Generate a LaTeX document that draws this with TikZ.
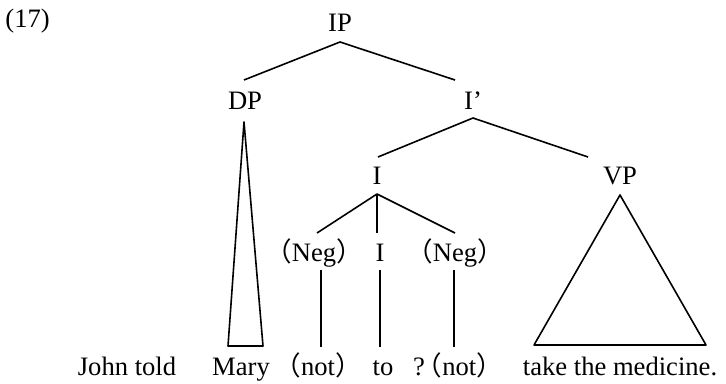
\documentclass[tikz,border=0pt]{standalone}
\usepackage{fontspec}
\setmainfont{Liberation Serif}
\newfontfamily\cjkfont{Noto Sans CJK SC}
\newcommand{\lp}{{\cjkfont （}}
\newcommand{\rp}{{\cjkfont ）}}
\begin{document}
\begin{tikzpicture}[x=0.5pt,y=-0.5pt,
  lab/.style={inner sep=0pt,anchor=base,font=\fontsize{13.3}{16}\selectfont},
  edge/.style={line width=0.8pt,line join=round}]
\useasboundingbox (0,0) rectangle (726,384);

% example number
\node[lab,anchor=base west] (num) at (5,28) {(17)};

% category labels
\node[lab] (IP)  at (340,32)  {IP};
\node[lab] (DP)  at (245,110) {DP};
\node[lab] (Ib)  at (473,110) {I’};
\node[lab] (I)   at (377,185) {I};
\node[lab] (VP)  at (620,185) {VP};
\node[lab] (negA) at (314,262) {\lp Neg\rp};
\node[lab] (Ilow) at (380,262) {I};
\node[lab] (negB) at (455,262) {\lp Neg\rp};

% words
\node[lab] (john) at (127,375) {John told};
\node[lab] (mary) at (241,375) {Mary};
\node[lab] (notA) at (318,375) {\lp not\rp};
\node[lab] (to)   at (383,375) {to};
\node[lab] (notB) at (458,375) {?\kern-0.35em\lp not\rp};
\node[lab] (take) at (620,375) {take the medicine.};

% branch points
\coordinate (ipTop) at (340,42);
\coordinate (dpEnd) at (244,80);
\coordinate (ibEnd) at (455,80);
\coordinate (ibTop) at (473,118);
\coordinate (iEnd)  at (378,157);
\coordinate (vpEnd) at (588,157);
\coordinate (iTop)  at (377,194);
\coordinate (nAEnd) at (317,233);
\coordinate (iLEnd) at (377,233);
\coordinate (nBEnd) at (455,233);

\draw[edge] (dpEnd) -- (ipTop) -- (ibEnd);
\draw[edge] (iEnd) -- (ibTop) -- (vpEnd);
\draw[edge] (nAEnd) -- (iTop) -- (nBEnd);
\draw[edge] (iTop) -- (iLEnd);

% unary branches
\coordinate (nAt) at (321,270); \coordinate (nAb) at (321,347);
\coordinate (iLt) at (380,270); \coordinate (iLb) at (380,347);
\coordinate (nBt) at (454,270); \coordinate (nBb) at (454,347);
\draw[edge] (nAt) -- (nAb);
\draw[edge] (iLt) -- (iLb);
\draw[edge] (nBt) -- (nBb);

% triangles
\coordinate (dpA) at (244,122);
\draw[edge] (dpA) -- (228,346) -- (263,346) -- cycle;
\coordinate (vpA) at (620,195);
\draw[edge] (vpA) -- (534,345) -- (706,345) -- cycle;
\end{tikzpicture}
\end{document}
